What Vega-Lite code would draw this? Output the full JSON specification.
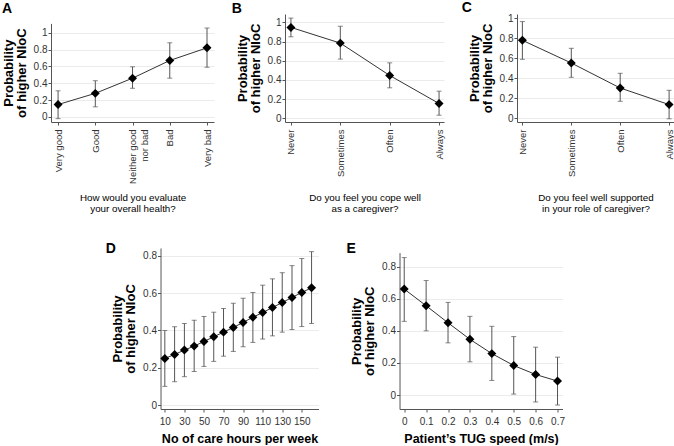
{
  "$schema": "https://vega.github.io/schema/vega-lite/v6.json",
  "padding": {"left": 2, "top": 0, "right": 0, "bottom": 0},
  "datasets": {
    "A": [
      {"x": 0, "p": 0.147, "lo": -0.02, "hi": 0.31},
      {"x": 1, "p": 0.28, "lo": 0.12, "hi": 0.43},
      {"x": 2, "p": 0.46, "lo": 0.34, "hi": 0.595},
      {"x": 3, "p": 0.67, "lo": 0.46, "hi": 0.88},
      {"x": 4, "p": 0.82, "lo": 0.59, "hi": 1.055}
    ],
    "B": [
      {"x": 0, "p": 0.948, "lo": 0.85, "hi": 1.045},
      {"x": 1, "p": 0.784, "lo": 0.617, "hi": 0.96},
      {"x": 2, "p": 0.446, "lo": 0.317, "hi": 0.578},
      {"x": 3, "p": 0.153, "lo": 0.031, "hi": 0.282}
    ],
    "C": [
      {"x": 0, "p": 0.78, "lo": 0.59, "hi": 0.967},
      {"x": 1, "p": 0.553, "lo": 0.41, "hi": 0.7},
      {"x": 2, "p": 0.303, "lo": 0.17, "hi": 0.45},
      {"x": 3, "p": 0.137, "lo": -0.005, "hi": 0.28}
    ],
    "D": [
      {"x": 10, "p": 0.25, "lo": 0.1, "hi": 0.4},
      {"x": 20, "p": 0.271, "lo": 0.125, "hi": 0.42},
      {"x": 30, "p": 0.295, "lo": 0.152, "hi": 0.4375},
      {"x": 40, "p": 0.316, "lo": 0.18, "hi": 0.455},
      {"x": 50, "p": 0.341, "lo": 0.207, "hi": 0.475},
      {"x": 60, "p": 0.366, "lo": 0.234, "hi": 0.498},
      {"x": 70, "p": 0.391, "lo": 0.262, "hi": 0.518},
      {"x": 80, "p": 0.416, "lo": 0.2875, "hi": 0.546},
      {"x": 90, "p": 0.443, "lo": 0.3125, "hi": 0.573},
      {"x": 100, "p": 0.471, "lo": 0.336, "hi": 0.604},
      {"x": 110, "p": 0.496, "lo": 0.354, "hi": 0.643},
      {"x": 120, "p": 0.523, "lo": 0.371, "hi": 0.677},
      {"x": 130, "p": 0.55, "lo": 0.391, "hi": 0.71},
      {"x": 140, "p": 0.577, "lo": 0.405, "hi": 0.748},
      {"x": 150, "p": 0.604, "lo": 0.421, "hi": 0.786},
      {"x": 160, "p": 0.629, "lo": 0.4375, "hi": 0.823}
    ],
    "E": [
      {"x": 0, "p": 0.66, "lo": 0.459, "hi": 0.856},
      {"x": 0.1, "p": 0.556, "lo": 0.4, "hi": 0.713},
      {"x": 0.2, "p": 0.45, "lo": 0.325, "hi": 0.577},
      {"x": 0.3, "p": 0.347, "lo": 0.207, "hi": 0.49},
      {"x": 0.4, "p": 0.258, "lo": 0.091, "hi": 0.428},
      {"x": 0.5, "p": 0.184, "lo": 0.006, "hi": 0.364},
      {"x": 0.6, "p": 0.128, "lo": -0.043, "hi": 0.298},
      {"x": 0.7, "p": 0.087, "lo": -0.062, "hi": 0.236}
    ]
  },
  "center": true,
  "spacing": 27,
  "vconcat": [
    {
      "spacing": 17,
      "hconcat": [
        {
          "title": {"text": "A", "dx": -49, "offset": -1.5},
          "width": 163, "height": 108,
          "data": {"name": "A"},
          "encoding": {
            "x": {"field": "x", "type": "quantitative",
              "scale": {"domain": [-0.19, 4.188], "nice": false, "zero": false},
              "axis": {"values": [0, 1, 2, 3, 4], "labelExpr": "['Very good','Good',['Neither good','nor bad'],'Bad','Very bad'][datum.value]", "labelAngle": -90, "labelFontSize": 9.5, "title": ["How would you evaluate", "your overall health?"], "titleFontSize": 9.8, "titleFontWeight": "normal", "titlePadding": 9, "titleLineHeight": 11, "labelPadding": 4}}
          },
          "layer": [
            {"mark": {"type": "rule", "color": "#555", "strokeWidth": 1},
             "encoding": {"y": {"field": "lo", "type": "quantitative", "scale": {"domain": [-0.06, 1.11], "range": [108, 9.4], "nice": false, "zero": false}, "axis": {"values": [0, 0.2, 0.4, 0.6, 0.8, 1], "format": "~g", "grid": true, "title": ["Probability", "of higher NIoC"]}}, "y2": {"field": "hi"}}},
            {"mark": {"type": "tick", "orient": "horizontal", "size": 5, "thickness": 1, "color": "#555"},
             "encoding": {"y": {"field": "lo", "type": "quantitative", "axis": {"values": [0, 0.2, 0.4, 0.6, 0.8, 1], "format": "~g", "grid": true, "title": ["Probability", "of higher NIoC"]}}}},
            {"mark": {"type": "tick", "orient": "horizontal", "size": 5, "thickness": 1, "color": "#555"},
             "encoding": {"y": {"field": "hi", "type": "quantitative", "axis": {"values": [0, 0.2, 0.4, 0.6, 0.8, 1], "format": "~g", "grid": true, "title": ["Probability", "of higher NIoC"]}}}},
            {"mark": {"type": "line", "color": "#333", "strokeWidth": 1},
             "encoding": {"y": {"field": "p", "type": "quantitative", "axis": {"values": [0, 0.2, 0.4, 0.6, 0.8, 1], "format": "~g", "grid": true, "title": ["Probability", "of higher NIoC"]}}}},
            {"mark": {"type": "point", "shape": "diamond", "filled": true, "color": "#000", "size": 80, "opacity": 1},
             "encoding": {"y": {"field": "p", "type": "quantitative", "axis": {"values": [0, 0.2, 0.4, 0.6, 0.8, 1], "format": "~g", "grid": true, "title": ["Probability", "of higher NIoC"]}}}}
          ]
        },
        {
          "title": {"text": "B", "dx": -53.3, "offset": -1.5},
          "width": 159, "height": 108,
          "data": {"name": "B"},
          "encoding": {
            "x": {"field": "x", "type": "quantitative",
              "scale": {"domain": [-0.12, 3.1], "nice": false, "zero": false},
              "axis": {"values": [0, 1, 2, 3], "labelExpr": "['Never','Sometimes','Often','Always'][datum.value]", "labelAngle": -90, "labelFontSize": 9.5, "title": ["Do you feel you cope well", "as a caregiver?"], "titleFontSize": 9.8, "titleFontWeight": "normal", "titlePadding": 16, "titleLineHeight": 11, "labelPadding": 4}}
          },
          "layer": [
            {"mark": {"type": "rule", "color": "#555", "strokeWidth": 1},
             "encoding": {"y": {"field": "lo", "type": "quantitative", "scale": {"domain": [-0.04, 1.088], "nice": false, "zero": false}, "axis": {"values": [0, 0.2, 0.4, 0.6, 0.8, 1], "format": "~g", "grid": true, "title": ["Probability", "of higher NIoC"]}}, "y2": {"field": "hi"}}},
            {"mark": {"type": "tick", "orient": "horizontal", "size": 5, "thickness": 1, "color": "#555"},
             "encoding": {"y": {"field": "lo", "type": "quantitative", "axis": {"values": [0, 0.2, 0.4, 0.6, 0.8, 1], "format": "~g", "grid": true, "title": ["Probability", "of higher NIoC"]}}}},
            {"mark": {"type": "tick", "orient": "horizontal", "size": 5, "thickness": 1, "color": "#555"},
             "encoding": {"y": {"field": "hi", "type": "quantitative", "axis": {"values": [0, 0.2, 0.4, 0.6, 0.8, 1], "format": "~g", "grid": true, "title": ["Probability", "of higher NIoC"]}}}},
            {"mark": {"type": "line", "color": "#333", "strokeWidth": 1},
             "encoding": {"y": {"field": "p", "type": "quantitative", "axis": {"values": [0, 0.2, 0.4, 0.6, 0.8, 1], "format": "~g", "grid": true, "title": ["Probability", "of higher NIoC"]}}}},
            {"mark": {"type": "point", "shape": "diamond", "filled": true, "color": "#000", "size": 80, "opacity": 1},
             "encoding": {"y": {"field": "p", "type": "quantitative", "axis": {"values": [0, 0.2, 0.4, 0.6, 0.8, 1], "format": "~g", "grid": true, "title": ["Probability", "of higher NIoC"]}}}}
          ]
        },
        {
          "title": {"text": "C", "dx": -55.2, "offset": -1.5},
          "width": 157, "height": 108,
          "data": {"name": "C"},
          "encoding": {
            "x": {"field": "x", "type": "quantitative",
              "scale": {"domain": [-0.11, 3.1], "nice": false, "zero": false},
              "axis": {"values": [0, 1, 2, 3], "labelExpr": "['Never','Sometimes','Often','Always'][datum.value]", "labelAngle": -90, "labelFontSize": 9.5, "title": ["Do you feel well supported", "in your role of caregiver?"], "titleFontSize": 9.8, "titleFontWeight": "normal", "titlePadding": 16, "titleLineHeight": 11, "labelPadding": 4}}
          },
          "layer": [
            {"mark": {"type": "rule", "color": "#555", "strokeWidth": 1},
             "encoding": {"y": {"field": "lo", "type": "quantitative", "scale": {"domain": [-0.037, 1.043], "nice": false, "zero": false}, "axis": {"values": [0, 0.2, 0.4, 0.6, 0.8, 1], "format": "~g", "grid": true, "title": ["Probability", "of higher NIoC"]}}, "y2": {"field": "hi"}}},
            {"mark": {"type": "tick", "orient": "horizontal", "size": 5, "thickness": 1, "color": "#555"},
             "encoding": {"y": {"field": "lo", "type": "quantitative", "axis": {"values": [0, 0.2, 0.4, 0.6, 0.8, 1], "format": "~g", "grid": true, "title": ["Probability", "of higher NIoC"]}}}},
            {"mark": {"type": "tick", "orient": "horizontal", "size": 5, "thickness": 1, "color": "#555"},
             "encoding": {"y": {"field": "hi", "type": "quantitative", "axis": {"values": [0, 0.2, 0.4, 0.6, 0.8, 1], "format": "~g", "grid": true, "title": ["Probability", "of higher NIoC"]}}}},
            {"mark": {"type": "line", "color": "#333", "strokeWidth": 1},
             "encoding": {"y": {"field": "p", "type": "quantitative", "axis": {"values": [0, 0.2, 0.4, 0.6, 0.8, 1], "format": "~g", "grid": true, "title": ["Probability", "of higher NIoC"]}}}},
            {"mark": {"type": "point", "shape": "diamond", "filled": true, "color": "#000", "size": 80, "opacity": 1},
             "encoding": {"y": {"field": "p", "type": "quantitative", "axis": {"values": [0, 0.2, 0.4, 0.6, 0.8, 1], "format": "~g", "grid": true, "title": ["Probability", "of higher NIoC"]}}}}
          ]
        }
      ]
    },
    {
      "spacing": 28,
      "hconcat": [
        {
          "title": {"text": "D", "dx": -54.7, "offset": -7.9},
          "width": 158, "height": 161,
          "data": {"name": "D"},
          "encoding": {
            "x": {"field": "x", "type": "quantitative",
              "scale": {"domain": [5.6, 167.1], "nice": false, "zero": false},
              "axis": {"values": [10, 30, 50, 70, 90, 110, 130, 150], "format": "d", "title": "No of care hours per week", "titleFontSize": 12.5, "titleFontWeight": "bold", "titlePadding": 6, "labelPadding": 4}}
          },
          "layer": [
            {"mark": {"type": "rule", "color": "#555", "strokeWidth": 1},
             "encoding": {"y": {"field": "lo", "type": "quantitative", "scale": {"domain": [-0.0214, 0.8425], "nice": false, "zero": false}, "axis": {"values": [0, 0.2, 0.4, 0.6, 0.8], "format": "~g", "grid": true, "title": ["Probability", "of higher NIoC"]}}, "y2": {"field": "hi"}}},
            {"mark": {"type": "tick", "orient": "horizontal", "size": 5, "thickness": 1, "color": "#555"},
             "encoding": {"y": {"field": "lo", "type": "quantitative", "axis": {"values": [0, 0.2, 0.4, 0.6, 0.8], "format": "~g", "grid": true, "title": ["Probability", "of higher NIoC"]}}}},
            {"mark": {"type": "tick", "orient": "horizontal", "size": 5, "thickness": 1, "color": "#555"},
             "encoding": {"y": {"field": "hi", "type": "quantitative", "axis": {"values": [0, 0.2, 0.4, 0.6, 0.8], "format": "~g", "grid": true, "title": ["Probability", "of higher NIoC"]}}}},
            {"mark": {"type": "line", "color": "#333", "strokeWidth": 1},
             "encoding": {"y": {"field": "p", "type": "quantitative", "axis": {"values": [0, 0.2, 0.4, 0.6, 0.8], "format": "~g", "grid": true, "title": ["Probability", "of higher NIoC"]}}}},
            {"mark": {"type": "point", "shape": "diamond", "filled": true, "color": "#000", "size": 80, "opacity": 1},
             "encoding": {"y": {"field": "p", "type": "quantitative", "axis": {"values": [0, 0.2, 0.4, 0.6, 0.8], "format": "~g", "grid": true, "title": ["Probability", "of higher NIoC"]}}}}
          ]
        },
        {
          "title": {"text": "E", "dx": -53, "offset": -7.9},
          "width": 163, "height": 161,
          "data": {"name": "E"},
          "encoding": {
            "x": {"field": "x", "type": "quantitative",
              "scale": {"domain": [-0.0215, 0.7228], "nice": false, "zero": false},
              "axis": {"values": [0, 0.1, 0.2, 0.3, 0.4, 0.5, 0.6, 0.7], "format": "~g", "title": "Patient’s TUG speed (m/s)", "titleFontSize": 12.5, "titleFontWeight": "bold", "titlePadding": 6, "labelPadding": 4}}
          },
          "layer": [
            {"mark": {"type": "rule", "color": "#555", "strokeWidth": 1},
             "encoding": {"y": {"field": "lo", "type": "quantitative", "scale": {"domain": [-0.0868, 0.887], "range": [161, 4.6], "nice": false, "zero": false}, "axis": {"values": [0, 0.2, 0.4, 0.6, 0.8], "format": "~g", "grid": true, "title": ["Probability", "of higher NIoC"]}}, "y2": {"field": "hi"}}},
            {"mark": {"type": "tick", "orient": "horizontal", "size": 5, "thickness": 1, "color": "#555"},
             "encoding": {"y": {"field": "lo", "type": "quantitative", "axis": {"values": [0, 0.2, 0.4, 0.6, 0.8], "format": "~g", "grid": true, "title": ["Probability", "of higher NIoC"]}}}},
            {"mark": {"type": "tick", "orient": "horizontal", "size": 5, "thickness": 1, "color": "#555"},
             "encoding": {"y": {"field": "hi", "type": "quantitative", "axis": {"values": [0, 0.2, 0.4, 0.6, 0.8], "format": "~g", "grid": true, "title": ["Probability", "of higher NIoC"]}}}},
            {"mark": {"type": "line", "color": "#333", "strokeWidth": 1},
             "encoding": {"y": {"field": "p", "type": "quantitative", "axis": {"values": [0, 0.2, 0.4, 0.6, 0.8], "format": "~g", "grid": true, "title": ["Probability", "of higher NIoC"]}}}},
            {"mark": {"type": "point", "shape": "diamond", "filled": true, "color": "#000", "size": 80, "opacity": 1},
             "encoding": {"y": {"field": "p", "type": "quantitative", "axis": {"values": [0, 0.2, 0.4, 0.6, 0.8], "format": "~g", "grid": true, "title": ["Probability", "of higher NIoC"]}}}}
          ]
        }
      ]
    }
  ],
  "config": {
    "font": "Liberation Sans",
    "view": {"stroke": null},
    "axis": {
      "domainColor": "#555", "tickColor": "#555", "tickSize": 3, "domainWidth": 1, "tickWidth": 1,
      "labelColor": "#333", "labelFontSize": 10, "labelFont": "Liberation Sans", "labelPadding": 1,
      "labelOverlap": false, "labelFlush": false,
      "titleFont": "Liberation Sans", "titleColor": "#000", "titleFontSize": 13, "titleFontWeight": "bold",
      "titlePadding": 5, "titleLineHeight": 13,
      "grid": false, "gridColor": "#ebebeb", "gridWidth": 1
    },
    "title": {"fontSize": 14, "fontWeight": "bold", "anchor": "start", "frame": "group", "baseline": "alphabetic", "color": "#000", "font": "Liberation Sans"}
  }
}
